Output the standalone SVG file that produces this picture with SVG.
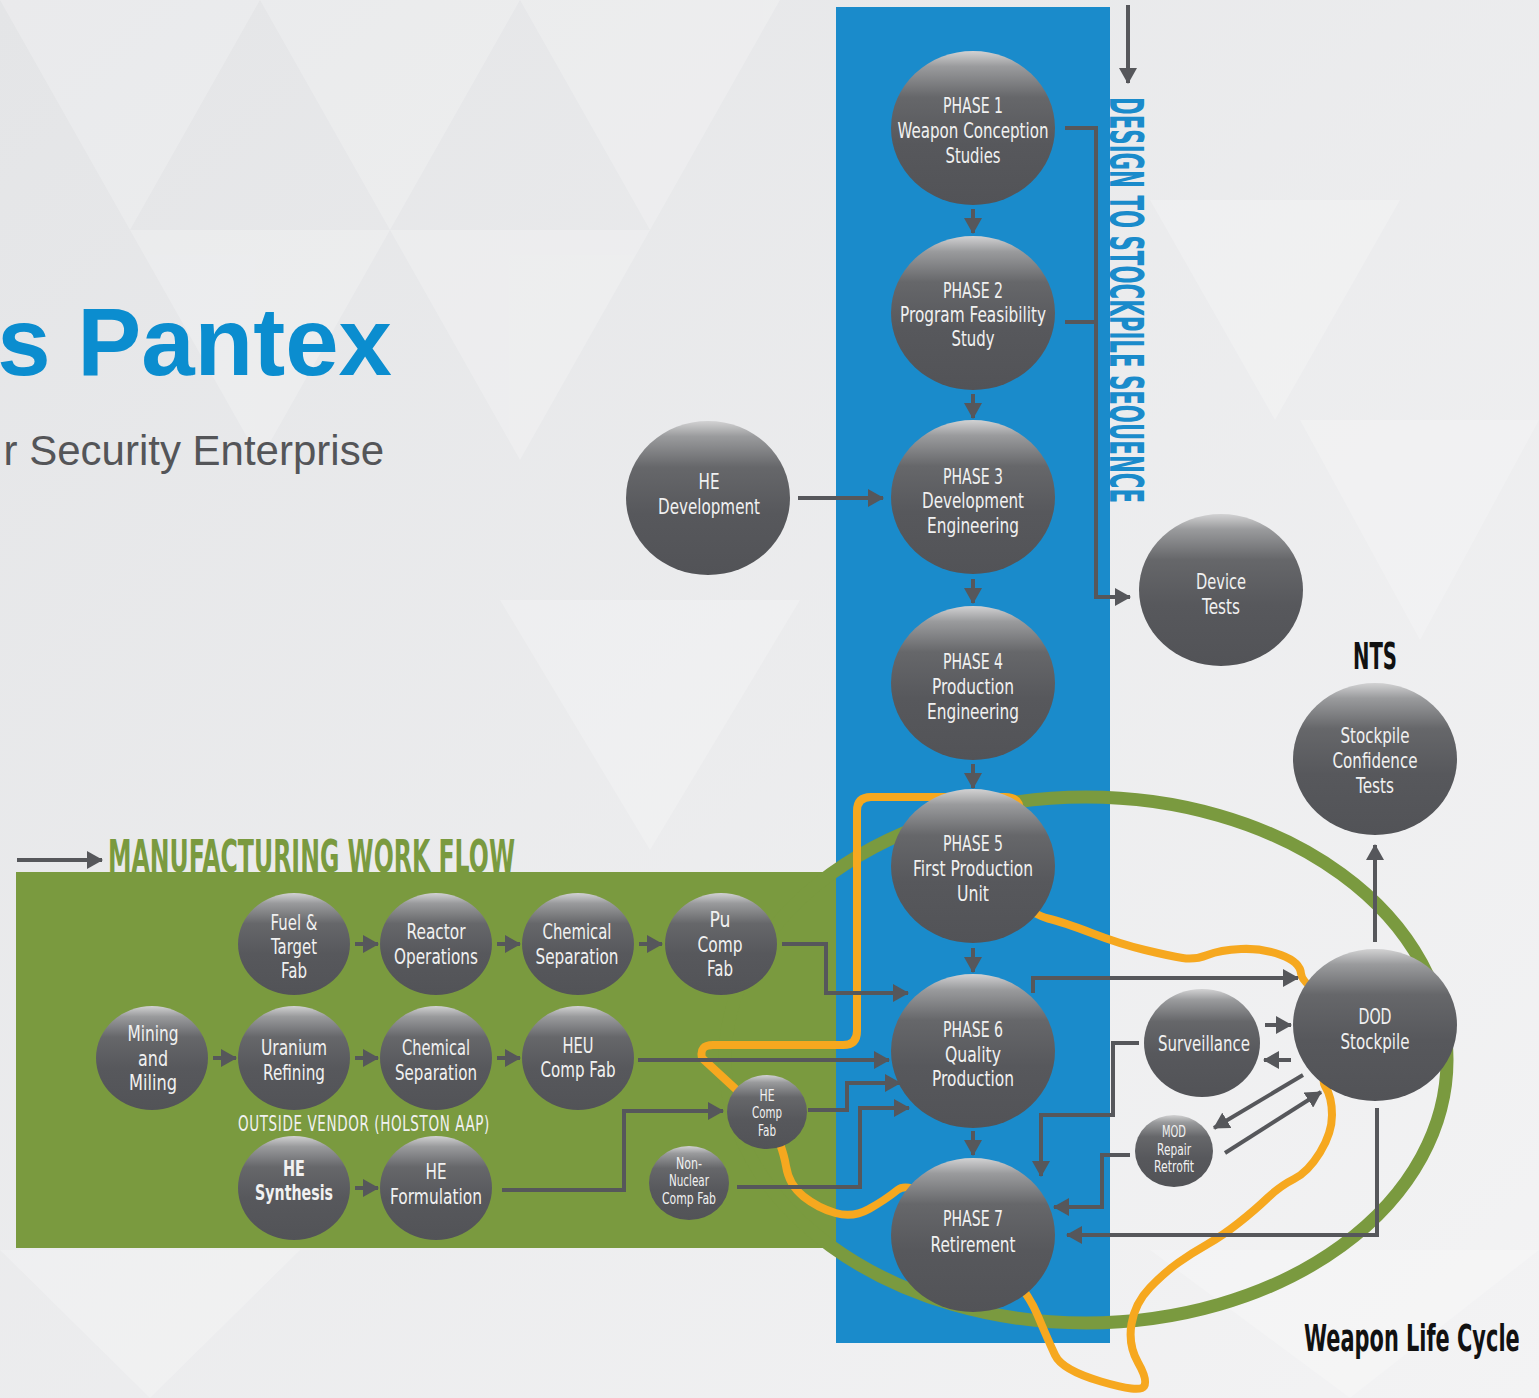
<svg xmlns="http://www.w3.org/2000/svg" width="1539" height="1398" viewBox="0 0 1539 1398">
<defs>
<linearGradient id="bg" x1="0" y1="0" x2="1" y2="1">
<stop offset="0" stop-color="#e4e5e7"/>
<stop offset="1" stop-color="#f3f3f4"/>
</linearGradient>
<linearGradient id="ng" x1="0" y1="0" x2="0" y2="1">
<stop offset="0" stop-color="#d2d2d3"/>
<stop offset="0.1" stop-color="#9a9b9d"/>
<stop offset="0.3" stop-color="#66676a"/>
<stop offset="0.6" stop-color="#57585c"/>
<stop offset="1" stop-color="#525357"/>
</linearGradient>
<marker id="ah" markerUnits="userSpaceOnUse" markerWidth="16" markerHeight="18" viewBox="0 0 16 18" refX="15" refY="9" orient="auto">
<path d="M0,0 L16,9 L0,18 z" fill="#56575b"/>
</marker>
<style>
.node { fill: url(#ng); }
.t { font-family: "DejaVu Sans","Liberation Sans",sans-serif; fill: #f1f1f1; text-anchor: middle; font-size: 22px; }
.s { font-size: 15px; }
.c { fill: none; stroke: #56575b; stroke-width: 4; marker-end: url(#ah); }
.cn { fill: none; stroke: #56575b; stroke-width: 4; }
.hd { font-family: "DejaVu Sans","Liberation Sans",sans-serif; font-weight: bold; }
</style>
</defs>

<!-- background -->
<rect x="0" y="0" width="1539" height="1398" fill="url(#bg)"/>
<g fill="#ffffff" opacity="0.22">
<polygon points="0,0 260,0 130,230"/>
<polygon points="260,0 520,0 390,230 "/>
<polygon points="130,230 390,230 260,460"/>
<polygon points="520,0 780,0 650,230"/>
<polygon points="390,230 650,230 520,460"/>
<polygon points="1150,200 1400,200 1275,420"/>
<polygon points="1300,420 1539,420 1420,640"/>
<polygon points="1150,1250 1539,1250 1350,1398"/>
<polygon points="0,1250 300,1250 150,1398"/>
<polygon points="500,600 800,600 650,850"/>
</g>

<!-- title -->
<text x="392" y="375" font-family="Liberation Sans, Arial, sans-serif" font-weight="bold" font-size="96" fill="#0b8dcf" text-anchor="end">s Pantex</text>
<text x="384" y="465" font-family="Liberation Sans, Arial, sans-serif" font-size="42" fill="#545558" text-anchor="end">r Security Enterprise</text>

<!-- regions -->
<rect x="16" y="872" width="830" height="376" fill="#7a9a3f"/>
<rect x="836" y="7" width="274" height="1336" fill="#1a8bcb"/>

<text class="hd" transform="translate(1110,97) rotate(90)" font-size="47" fill="#1a8bcb" textLength="406" lengthAdjust="spacingAndGlyphs">DESIGN TO STOCKPILE SEQUENCE</text>
<text class="hd" x="108" y="872" font-size="44" fill="#7a9a3f" textLength="407" lengthAdjust="spacingAndGlyphs">MANUFACTURING WORK FLOW</text>
<text class="hd" x="1353" y="669" font-size="37" fill="#111" textLength="44" lengthAdjust="spacingAndGlyphs">NTS</text>
<text class="hd" transform="translate(1304,1351) scale(0.55,1)" font-size="38" fill="#111">Weapon Life Cycle</text>
<text class="t" x="238" y="1131" font-size="16" style="text-anchor:start;letter-spacing:1px" textLength="252" lengthAdjust="spacingAndGlyphs">OUTSIDE VENDOR (HOLSTON AAP)</text>

<!-- life cycle ellipse -->
<ellipse cx="1086" cy="1060" rx="361" ry="263" fill="none" stroke="#7a9a3f" stroke-width="13"/>

<!-- orange path -->
<path fill="none" stroke="#f6a81f" stroke-width="8" stroke-linejoin="round" d="M1020,812 Q1020,797 1005,797 H871 Q857,797 857,811 V1031 Q857,1045 843,1045 H713 Q699,1045 702,1058 L740,1093 L767,1112 Q783,1147 786,1166 Q789,1185 803.5,1196.5 Q818,1208 835.5,1213 Q853,1218 869,1209 Q885,1200 897.5,1190 Q910,1180 941.5,1207.5 Q973,1235 1000,1262.5 Q1027,1290 1037.5,1315 Q1048,1340 1055,1355 Q1062,1370 1101,1381.5 Q1140,1393 1144,1386.5 Q1148,1380 1138,1362.5 Q1128,1345 1131.5,1324 Q1135,1303 1150,1287.5 Q1165,1272 1178.5,1262.5 Q1192,1253 1207,1244.5 Q1222,1236 1238.5,1223 Q1255,1210 1267.5,1198 Q1280,1186 1294,1179 Q1308,1172 1320,1152.5 Q1332,1133 1332,1115 Q1332,1097 1325,1086 Q1318,1075 1346.5,1050 Q1375,1025 1338.5,1005 Q1302,985 1301,973.5 Q1300,962 1281,955 Q1262,948 1241,949 Q1220,950 1207.5,955 Q1195,960 1182.5,958 Q1170,956 1145,950 Q1120,944 1091.5,933 Q1063,922 1048,918.5 Q1033,915 1003,890.5 Q973,866 996.5,850.5 Q1020,835 1020,812 Z"/>

<!-- connectors -->
<g id="connectors">
<path class="c" d="M1128,5 V83"/>
<path class="c" d="M1065,128 H1096 V597 H1130"/>
<path class="cn" d="M1065,322 H1096"/>
<path class="c" d="M973,209 V233"/>
<path class="c" d="M973,394 V418"/>
<path class="c" d="M973,579 V603"/>
<path class="c" d="M973,764 V788"/>
<path class="c" d="M973,948 V972"/>
<path class="c" d="M973,1131 V1155"/>
<path class="c" d="M798,498 H883"/>
<path class="c" d="M17,860 H102"/>
<path class="c" d="M355,944 H378"/>
<path class="c" d="M497,944 H520"/>
<path class="c" d="M639,944 H662"/>
<path class="c" d="M213,1058 H236"/>
<path class="c" d="M355,1058 H378"/>
<path class="c" d="M497,1058 H520"/>
<path class="c" d="M355,1188 H378"/>
<path class="c" d="M782,944 H826 V993 H908"/>
<path class="c" d="M638,1060 H889"/>
<path class="c" d="M808,1110 H847 V1083 H900"/>
<path class="c" d="M737,1187 H860 V1108 H909"/>
<path class="c" d="M502,1190 H624 V1111 H723"/>
<path class="c" d="M1033,993 V978 H1298"/>
<path class="c" d="M1139,1043 H1113 V1115 H1041 V1176"/>
<path class="c" d="M1130,1155 H1102 V1207 H1054"/>
<path class="c" d="M1377,1108 V1235 H1067"/>
<path class="c" d="M1375,942 V845"/>
<path class="c" d="M1265,1025 H1291"/>
<path class="c" d="M1291,1060 H1264"/>
<path class="c" d="M1303,1075 L1214,1128"/>
<path class="c" d="M1225,1153 L1321,1092"/>
</g>

<!-- nodes -->
<g id="phase1"><ellipse class="node" cx="973" cy="128" rx="82" ry="77"/>
<text class="t" x="973" y="113" textLength="60" lengthAdjust="spacingAndGlyphs">PHASE 1</text><text class="t" x="973" y="138" textLength="151" lengthAdjust="spacingAndGlyphs">Weapon Conception</text><text class="t" x="973" y="163" textLength="55" lengthAdjust="spacingAndGlyphs">Studies</text></g>
<g id="phase2"><ellipse class="node" cx="973" cy="313" rx="82" ry="77"/>
<text class="t" x="973" y="298" textLength="60" lengthAdjust="spacingAndGlyphs">PHASE 2</text><text class="t" x="973" y="322" textLength="146" lengthAdjust="spacingAndGlyphs">Program Feasibility</text><text class="t" x="973" y="346" textLength="43" lengthAdjust="spacingAndGlyphs">Study</text></g>
<g id="phase3"><ellipse class="node" cx="973" cy="497" rx="82" ry="77"/>
<text class="t" x="973" y="484" textLength="60" lengthAdjust="spacingAndGlyphs">PHASE 3</text><text class="t" x="973" y="508" textLength="102" lengthAdjust="spacingAndGlyphs">Development</text><text class="t" x="973" y="533" textLength="92" lengthAdjust="spacingAndGlyphs">Engineering</text></g>
<g id="phase4"><ellipse class="node" cx="973" cy="683" rx="82" ry="77"/>
<text class="t" x="973" y="669" textLength="60" lengthAdjust="spacingAndGlyphs">PHASE 4</text><text class="t" x="973" y="694" textLength="82" lengthAdjust="spacingAndGlyphs">Production</text><text class="t" x="973" y="719" textLength="92" lengthAdjust="spacingAndGlyphs">Engineering</text></g>
<g id="phase5"><ellipse class="node" cx="973" cy="866" rx="82" ry="77"/>
<text class="t" x="973" y="851" textLength="60" lengthAdjust="spacingAndGlyphs">PHASE 5</text><text class="t" x="973" y="876" textLength="120" lengthAdjust="spacingAndGlyphs">First Production</text><text class="t" x="973" y="901" textLength="32" lengthAdjust="spacingAndGlyphs">Unit</text></g>
<g id="phase6"><ellipse class="node" cx="973" cy="1051" rx="82" ry="77"/>
<text class="t" x="973" y="1037" textLength="60" lengthAdjust="spacingAndGlyphs">PHASE 6</text><text class="t" x="973" y="1062" textLength="56" lengthAdjust="spacingAndGlyphs">Quality</text><text class="t" x="973" y="1086" textLength="82" lengthAdjust="spacingAndGlyphs">Production</text></g>
<g id="phase7"><ellipse class="node" cx="973" cy="1235" rx="82" ry="77"/>
<text class="t" x="973" y="1226" textLength="60" lengthAdjust="spacingAndGlyphs">PHASE 7</text><text class="t" x="973" y="1252" textLength="85" lengthAdjust="spacingAndGlyphs">Retirement</text></g>
<g id="he-development"><ellipse class="node" cx="708" cy="498" rx="82" ry="77"/>
<text class="t" x="709" y="489" textLength="21" lengthAdjust="spacingAndGlyphs">HE</text><text class="t" x="709" y="514" textLength="102" lengthAdjust="spacingAndGlyphs">Development</text></g>
<g id="device-tests"><ellipse class="node" cx="1221" cy="590" rx="82" ry="76"/>
<text class="t" x="1221" y="589" textLength="50" lengthAdjust="spacingAndGlyphs">Device</text><text class="t" x="1221" y="614" textLength="38" lengthAdjust="spacingAndGlyphs">Tests</text></g>
<g id="stockpile-confidence-tests"><ellipse class="node" cx="1375" cy="759" rx="82" ry="76"/>
<text class="t" x="1375" y="743" textLength="69" lengthAdjust="spacingAndGlyphs">Stockpile</text><text class="t" x="1375" y="768" textLength="85" lengthAdjust="spacingAndGlyphs">Confidence</text><text class="t" x="1375" y="793" textLength="38" lengthAdjust="spacingAndGlyphs">Tests</text></g>
<g id="dod-stockpile"><ellipse class="node" cx="1375" cy="1025" rx="82" ry="76"/>
<text class="t" x="1375" y="1024" textLength="33" lengthAdjust="spacingAndGlyphs">DOD</text><text class="t" x="1375" y="1049" textLength="69" lengthAdjust="spacingAndGlyphs">Stockpile</text></g>
<g id="surveillance"><ellipse class="node" cx="1202" cy="1043" rx="58" ry="54"/>
<text class="t" x="1204" y="1051" font-size="24" textLength="92" lengthAdjust="spacingAndGlyphs">Surveillance</text></g>
<g id="mod-repair-retrofit"><ellipse class="node" cx="1174" cy="1151" rx="39" ry="36"/>
<text class="t s" x="1174" y="1137" textLength="24" lengthAdjust="spacingAndGlyphs">MOD</text><text class="t s" x="1174" y="1155" textLength="34" lengthAdjust="spacingAndGlyphs">Repair</text><text class="t s" x="1174" y="1172" textLength="40" lengthAdjust="spacingAndGlyphs">Retrofit</text></g>
<g id="fuel-target-fab"><ellipse class="node" cx="294" cy="944" rx="56" ry="51"/>
<text class="t" x="294" y="930" textLength="47" lengthAdjust="spacingAndGlyphs">Fuel &amp;</text><text class="t" x="294" y="954" textLength="46" lengthAdjust="spacingAndGlyphs">Target</text><text class="t" x="294" y="978" textLength="26" lengthAdjust="spacingAndGlyphs">Fab</text></g>
<g id="reactor-operations"><ellipse class="node" cx="436" cy="944" rx="56" ry="51"/>
<text class="t" x="436" y="939" textLength="59" lengthAdjust="spacingAndGlyphs">Reactor</text><text class="t" x="436" y="964" textLength="84" lengthAdjust="spacingAndGlyphs">Operations</text></g>
<g id="chemical-separation-1"><ellipse class="node" cx="578" cy="944" rx="56" ry="51"/>
<text class="t" x="577" y="939" textLength="69" lengthAdjust="spacingAndGlyphs">Chemical</text><text class="t" x="577" y="964" textLength="83" lengthAdjust="spacingAndGlyphs">Separation</text></g>
<g id="pu-comp-fab"><ellipse class="node" cx="721" cy="944" rx="56" ry="51"/>
<text class="t" x="720" y="927" textLength="21" lengthAdjust="spacingAndGlyphs">Pu</text><text class="t" x="720" y="952" textLength="45" lengthAdjust="spacingAndGlyphs">Comp</text><text class="t" x="720" y="976" textLength="26" lengthAdjust="spacingAndGlyphs">Fab</text></g>
<g id="mining-and-miling"><ellipse class="node" cx="152" cy="1058" rx="56" ry="52"/>
<text class="t" x="153" y="1041" textLength="51" lengthAdjust="spacingAndGlyphs">Mining</text><text class="t" x="153" y="1066" textLength="30" lengthAdjust="spacingAndGlyphs">and</text><text class="t" x="153" y="1090" textLength="48" lengthAdjust="spacingAndGlyphs">Miling</text></g>
<g id="uranium-refining"><ellipse class="node" cx="294" cy="1058" rx="56" ry="52"/>
<text class="t" x="294" y="1055" textLength="66" lengthAdjust="spacingAndGlyphs">Uranium</text><text class="t" x="294" y="1080" textLength="62" lengthAdjust="spacingAndGlyphs">Refining</text></g>
<g id="chemical-separation-2"><ellipse class="node" cx="436" cy="1058" rx="56" ry="52"/>
<text class="t" x="436" y="1055" textLength="68" lengthAdjust="spacingAndGlyphs">Chemical</text><text class="t" x="436" y="1080" textLength="82" lengthAdjust="spacingAndGlyphs">Separation</text></g>
<g id="heu-comp-fab"><ellipse class="node" cx="578" cy="1058" rx="56" ry="52"/>
<text class="t" x="578" y="1053" textLength="31" lengthAdjust="spacingAndGlyphs">HEU</text><text class="t" x="578" y="1077" textLength="75" lengthAdjust="spacingAndGlyphs">Comp Fab</text></g>
<g id="he-synthesis"><ellipse class="node" cx="294" cy="1188" rx="56" ry="52"/>
<text class="t" x="294" y="1176" font-weight="bold" textLength="22" lengthAdjust="spacingAndGlyphs">HE</text><text class="t" x="294" y="1200" font-weight="bold" textLength="78" lengthAdjust="spacingAndGlyphs">Synthesis</text></g>
<g id="he-formulation"><ellipse class="node" cx="436" cy="1188" rx="56" ry="52"/>
<text class="t" x="436" y="1179" textLength="21" lengthAdjust="spacingAndGlyphs">HE</text><text class="t" x="436" y="1204" textLength="92" lengthAdjust="spacingAndGlyphs">Formulation</text></g>
<g id="he-comp-fab"><ellipse class="node" cx="767" cy="1112" rx="40" ry="37"/>
<text class="t s" x="767" y="1101" textLength="15" lengthAdjust="spacingAndGlyphs">HE</text><text class="t s" x="767" y="1118" textLength="30" lengthAdjust="spacingAndGlyphs">Comp</text><text class="t s" x="767" y="1136" textLength="18" lengthAdjust="spacingAndGlyphs">Fab</text></g>
<g id="non-nuclear-comp-fab"><ellipse class="node" cx="689" cy="1183" rx="40" ry="37"/>
<text class="t s" x="689" y="1169" textLength="26" lengthAdjust="spacingAndGlyphs">Non-</text><text class="t s" x="689" y="1186" textLength="40" lengthAdjust="spacingAndGlyphs">Nuclear</text><text class="t s" x="689" y="1204" textLength="54" lengthAdjust="spacingAndGlyphs">Comp Fab</text></g>
</svg>
